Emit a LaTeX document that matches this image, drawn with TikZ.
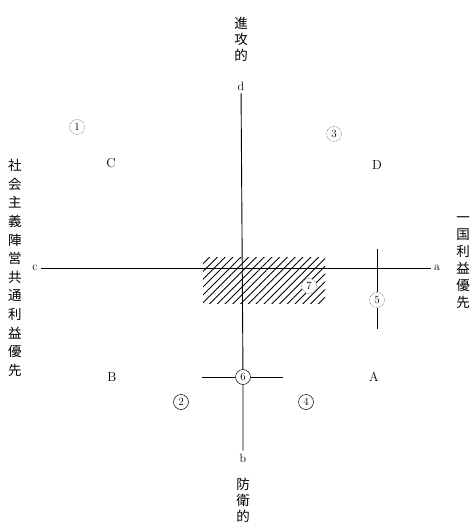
\documentclass[tikz,border=0pt]{standalone}
\usepackage{fontspec}
\newfontfamily\jpfont{Noto Sans CJK JP}
\usetikzlibrary{patterns.meta}

\begin{document}
\begin{tikzpicture}[x=1pt,y=-1pt,
  axis/.style={line width=0.9pt},
  tate/.style={font=\jpfont\fontsize{13.5}{#1}\selectfont,align=center,inner sep=0pt},
  letter/.style={font=\fontsize{12}{12}\selectfont,inner sep=3pt},
  circnum/.style={circle,draw,line width=0.5pt,minimum size=15pt,inner sep=0pt,font=\fontsize{11}{11}\selectfont},
  faint/.style={circnum,densely dotted,draw=black!75}]
 \useasboundingbox (0,0) rectangle (475,529);
 % hatched zone round the origin
 \fill[pattern={Lines[angle=45,distance=5.5pt,line width=0.9pt]}] (203,257) rectangle (325,303);
 % axis ends
 \node[letter] (d) at (241,86) {d};
 \node[letter] (b) at (243,458) {b};
 \node[letter] (c) at (35,268) {c};
 \node[letter] (a) at (437,268) {a};
 \node[circnum] (n6) at (243,377) {6};
 \draw[axis] (c) -- (a);
 \draw[axis] (d) -- (n6) (n6) -- (b);
 \coordinate (w6) at (202,377);
 \coordinate (e6) at (283,377);
 \draw[line width=0.8pt] (w6) -- (n6) -- (e6);
 \node[faint,fill=white] (n5) at (377,300) {5};
 \coordinate (t5) at (377,249);
 \coordinate (b5) at (377,329);
 \draw[line width=0.8pt] (t5) -- (n5) -- (b5);
 % numbered zones
 \foreach \n/\x/\y in {1/77/127,3/334/134}
   \node[faint] (n\n) at (\x,\y) {\n};
 \node[faint,fill=white] (n7) at (309,286) {7};
 \foreach \n/\x/\y in {2/181/402,4/306/402}
   \node[circnum] (n\n) at (\x,\y) {\n};
 \foreach \q/\x/\y in {C/111/163,D/377/165,B/112/377,A/374/377}
   \node[letter,font=\fontsize{13}{13}\selectfont] (q\q) at (\x,\y) {\q};
 % axis titles
 \node[tate=16] (atk) at (241,39) {進\\攻\\的};
 \node[tate=16] (dfn) at (243,500) {防\\衛\\的};
 \node[tate=18.6] (soc) at (15,268) {社\\会\\主\\義\\陣\\営\\共\\通\\利\\益\\優\\先};
 \node[tate=17] (nat) at (463,263) {一\\国\\利\\益\\優\\先};
\end{tikzpicture}
\end{document}
